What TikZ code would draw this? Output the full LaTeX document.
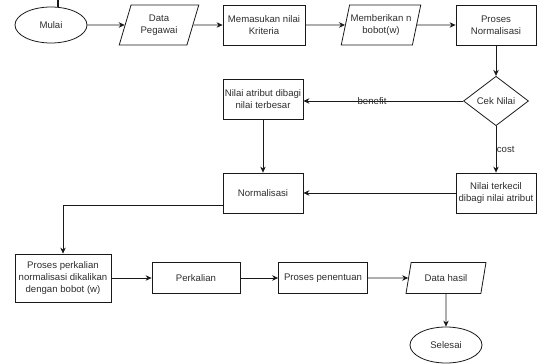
\documentclass[tikz,border=0pt]{standalone}
\usepackage{fontspec}
\setmainfont{Liberation Sans}
\usetikzlibrary{arrows.meta,positioning,shapes.geometric}
\definecolor{fctext}{RGB}{45,45,45}
\definecolor{fcline}{RGB}{25,25,25}
\tikzset{
  blk/.style={draw=fcline, line width=0.8pt, rectangle, minimum width=80pt, minimum height=40pt,
              align=center, inner sep=1pt, font=\fontsize{9.6}{12}\selectfont, text=fctext},
  io/.style={blk, trapezium, trapezium left angle=70, trapezium right angle=110, trapezium stretches=true},
  term/.style={blk, ellipse, minimum width=72pt, minimum height=36pt},
  dec/.style={blk, diamond, minimum width=65pt, minimum height=47pt},
  flowarr/.style={-{Stealth[length=6pt,width=5.5pt]}, fcline, line width=0.8pt},
  lbl/.style={font=\fontsize{9.6}{12}\selectfont, text=fctext, inner sep=1pt},
}

\begin{document}
\begin{tikzpicture}[x=1pt, y=-1pt]
  \useasboundingbox (0,0) rectangle (538,364);
  \node[term] (mulai) at (51,25) {Mulai};
  \node[io] (dpeg) at (159,25) {Data\\Pegawai};
  \node[blk, minimum width=82pt] (kriteria) at (264,25) {Memasukan nilai\\Kriteria};
  \node[io] (bobot) at (381,25) {Memberikan n\\bobot(w)};
  \node[blk] (pnorm) at (496,25) {Proses\\Normalisasi};
  \node[dec] (cek) at (496,101) {Cek Nilai};
  \node[blk] (besar) at (263,99) {Nilai atribut dibagi\\nilai terbesar};
  \node[blk] (kecil) at (496,193) {Nilai terkecil\\dibagi nilai atribut};
  \node[blk] (norm) at (263,193) {Normalisasi};
  \node[blk, minimum width=96pt, minimum height=48pt] (pkali) at (63,278) {Proses perkalian\\normalisasi dikalikan\\dengan bobot (w)};
  \node[blk, minimum width=88pt, minimum height=31pt] (kali) at (196,278) {Perkalian};
  \node[blk, minimum width=89pt, minimum height=31pt] (tentu) at (323,278) {Proses penentuan};
  \node[io, minimum height=31pt] (hasil) at (446,278) {Data hasil};
  \node[term] (selesai) at (446,345) {Selesai};
  \coordinate (top) at (58,0);

  \draw[fcline, line width=1.4pt] (top) -- (mulai.north -| top);
  \draw[flowarr] (mulai) -- (dpeg);
  \draw[flowarr] (dpeg) -- (kriteria);
  \draw[flowarr] (kriteria) -- (bobot);
  \draw[flowarr] (bobot) -- (pnorm);
  \draw[flowarr] (pnorm) -- (cek);
  \draw[flowarr] (cek) -- node[lbl, pos=0.57]{benefit} (besar.east |- cek);
  \draw[flowarr] (cek) -- node[lbl, anchor=west, inner sep=0.5pt]{cost} (kecil);
  \draw[flowarr] (besar) -- (norm);
  \draw[flowarr] (kecil) -- (norm);
  \draw[flowarr] ([yshift=8pt]norm.south west) -| (pkali.north);
  \draw[flowarr] (pkali) -- (kali);
  \draw[flowarr] (kali) -- (tentu);
  \draw[flowarr] (tentu) -- (hasil);
  \draw[flowarr] (hasil) -- (selesai);
\end{tikzpicture}
\end{document}
